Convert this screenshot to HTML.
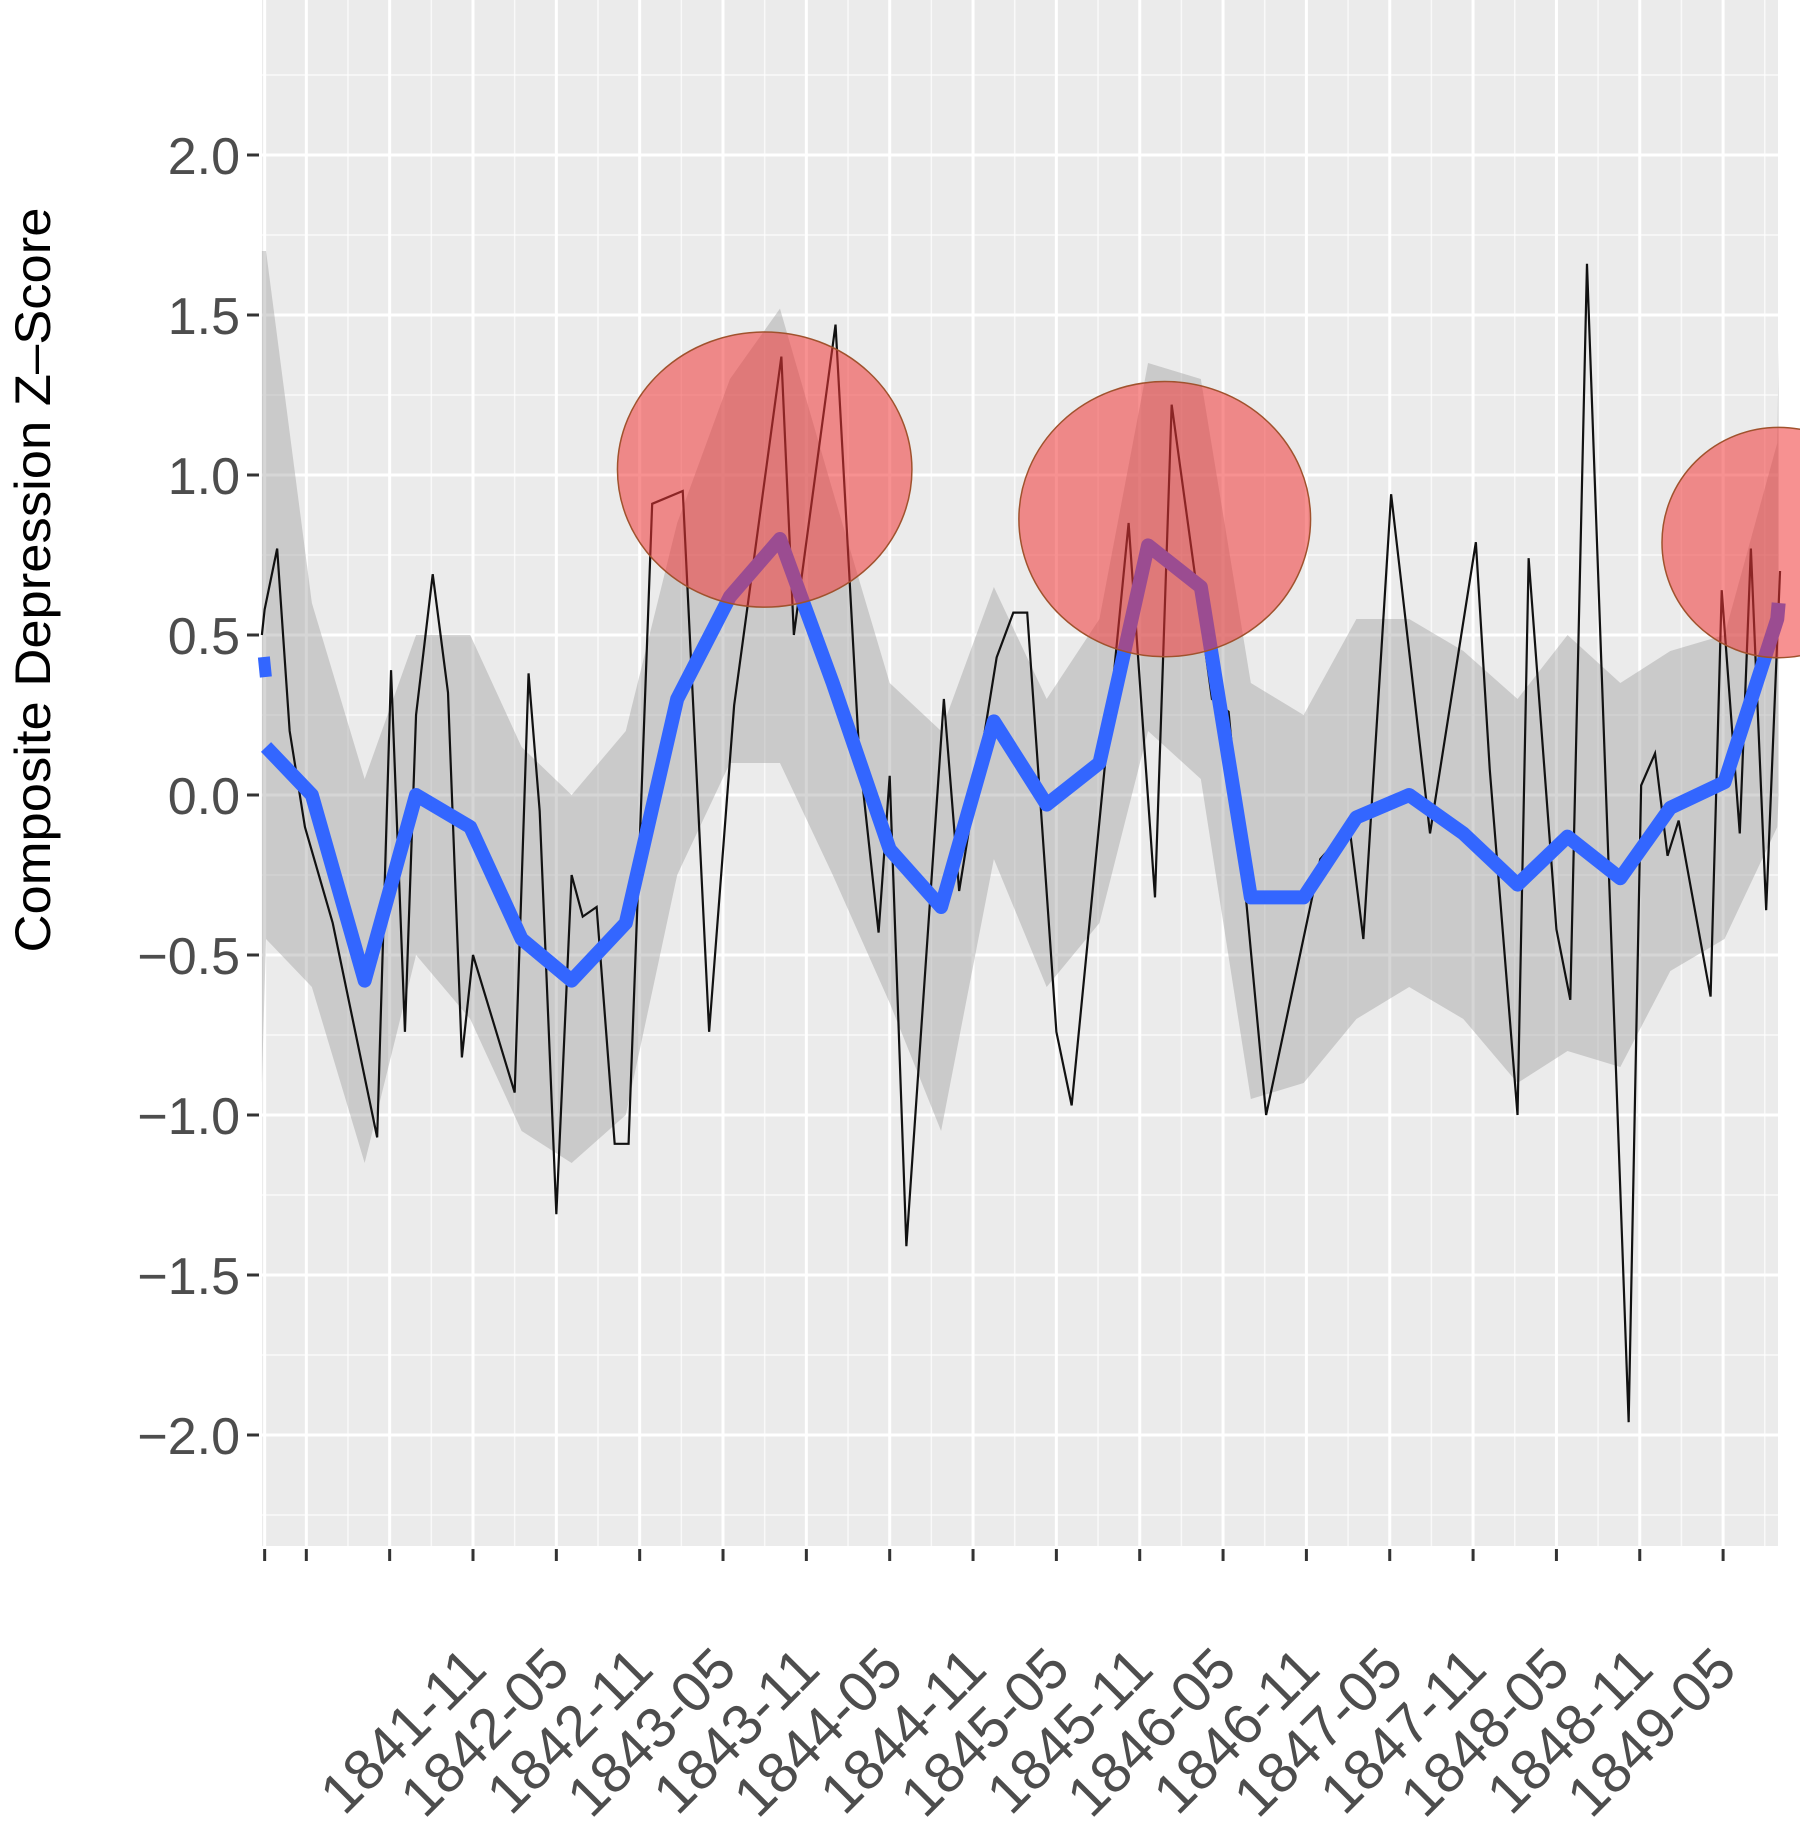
<!DOCTYPE html>
<html><head><meta charset="utf-8"><style>
html,body{margin:0;padding:0;background:#fff;}
svg{display:block;}
</style></head><body>
<svg id="chart" width="1800" height="1845" viewBox="0 0 1800 1845" xmlns="http://www.w3.org/2000/svg">
<rect x="262" y="0" width="1516" height="1546" fill="#ebebeb"/>
<g id="grid"></g>
<g id="ribbon"></g>
<g id="black"></g>
<g id="blue"></g>
<g id="circles"></g>
<g id="axes"></g>
<text transform="translate(50,580) rotate(-90)" text-anchor="middle" font-family="Liberation Sans, sans-serif" font-size="50" fill="#000" textLength="745" lengthAdjust="spacingAndGlyphs">Composite Depression Z–Score</text>
</svg>
<script>
// months are offsets from 1841-11
const monthTimes = [-15.2,-15.0,-14.1,-13.2,-12.1,-10.1,-6.9,-5.9,-4.9,-4.1,-2.9,-1.8,-0.8,0.0,3.0,4.0,4.8,6.0,7.1,7.9,8.9,10.2,11.2,12.9,15.1,17.0,18.8,22.2,23.1,26.1,27.8,29.2,30.0,31.2,33.9,35.0,37.7,38.9,39.9,42.0,43.1,47.2,49.1,50.3,53.2,54.4,57.1,61.0,63.1,64.1,66.1,68.9,72.2,73.2,75.2,76.0,78.0,79.0,80.2,83.2,84.1,85.1,86.0,86.8,89.1,89.9,91.2,92.0,93.1,94.1];
const monthValues = [0.5,0.58,0.77,0.2,-0.1,-0.4,-1.07,0.39,-0.74,0.25,0.69,0.32,-0.82,-0.5,-0.93,0.38,-0.05,-1.31,-0.25,-0.38,-0.35,-1.09,-1.09,0.91,0.95,-0.74,0.28,1.37,0.5,1.47,0.13,-0.43,0.06,-1.41,0.3,-0.3,0.43,0.57,0.57,-0.74,-0.97,0.85,-0.32,1.22,0.3,0.26,-1.0,-0.2,-0.1,-0.45,0.94,-0.12,0.79,0.08,-1.0,0.74,-0.42,-0.64,1.66,-1.96,0.03,0.13,-0.19,-0.08,-0.63,0.64,-0.12,0.77,-0.36,0.7];
const trendTimes = [-15.2,-14.9,-11.6,-7.8,-4.1,-0.2,3.5,7.1,11.0,14.7,18.5,22.1,25.9,30.0,33.7,37.5,41.3,45.1,48.6,52.4,56.0,59.8,63.6,67.4,71.3,75.2,78.8,82.6,86.2,90.1,93.9,94.0];
const trendValues = [0.4,0.15,0.0,-0.58,0.0,-0.1,-0.45,-0.58,-0.4,0.3,0.62,0.8,0.35,-0.17,-0.35,0.23,-0.03,0.1,0.78,0.65,-0.32,-0.32,-0.07,0.0,-0.12,-0.28,-0.13,-0.26,-0.04,0.04,0.55,0.6];
const ribbonUpper = [1.7,1.7,0.6,0.05,0.5,0.5,0.15,0.0,0.2,0.85,1.3,1.52,0.95,0.35,0.2,0.65,0.3,0.55,1.35,1.3,0.35,0.25,0.55,0.55,0.45,0.3,0.5,0.35,0.45,0.5,1.1,1.4];
const ribbonLower = [-0.9,-0.45,-0.6,-1.15,-0.5,-0.7,-1.05,-1.15,-1.0,-0.25,0.1,0.1,-0.25,-0.65,-1.05,-0.2,-0.6,-0.4,0.2,0.05,-0.95,-0.9,-0.7,-0.6,-0.7,-0.9,-0.8,-0.85,-0.55,-0.45,-0.1,0.0];
const yTicks = [-2.0,-1.5,-1.0,-0.5,0.0,0.5,1.0,1.5,2.0];
const yTickLabels = ["−2.0","−1.5","−1.0","−0.5","0.0","0.5","1.0","1.5","2.0"];
const xTickTimes = [-15,-12,-6,0,6,12,18,24,30,36,42,48,54,60,66,72,78,84,90];
const xTickLabels = ["","","","1841-11","1842-05","1842-11","1843-05","1843-11","1844-05","1844-11","1845-05","1845-11","1846-05","1846-11","1847-05","1847-11","1848-05","1848-11","1849-05"];
const circleCenterTimes = [21.0,49.8,94.0];
const circleCenterValues = [1.017,0.862,0.789];
const circleRadiusMonths = [10.6,10.5,8.4];
const circleRadiusValues = [0.43,0.43,0.36];

const NS='http://www.w3.org/2000/svg';
const PL=262, PR=1778, PT=0, PB=1546;
const xs = t => 473 + t*13.89;
const ys = v => 795 - v*320;
function mk(tag, attrs, parent){const e=document.createElementNS(NS,tag);for(const k in attrs)e.setAttribute(k,attrs[k]);parent.appendChild(e);return e;}

const grid=document.getElementById('grid');
for(let v=-2.25; v<=2.5; v+=0.5){const l=mk('line',{x1:PL,x2:PR,y1:ys(v),y2:ys(v),stroke:'#fff','stroke-width':1.5,opacity:0.7},grid);

}
yTicks.forEach(v=>{const l=mk('line',{x1:PL,x2:PR,y1:ys(v),y2:ys(v),stroke:'#fff','stroke-width':3},grid);

});
for(let t=-9; t<=94; t+=6){const l=mk('line',{x1:xs(t),x2:xs(t),y1:PT,y2:PB,stroke:'#fff','stroke-width':1.5,opacity:0.7},grid);

}
xTickTimes.forEach(t=>{const l=mk('line',{x1:xs(t),x2:xs(t),y1:PT,y2:PB,stroke:'#fff','stroke-width':3},grid);

});

const rib=document.getElementById('ribbon');
let pts=[];
trendTimes.forEach((t,i)=>pts.push(xs(t)+','+ys(ribbonUpper[i])));
for(let i=trendTimes.length-1;i>=0;i--)pts.push(xs(trendTimes[i])+','+ys(ribbonLower[i]));
const rp=mk('polygon',{points:pts.join(' '),fill:'#999','fill-opacity':0.4},rib);



const bl=mk('polyline',{points:monthTimes.map((t,i)=>xs(t)+','+ys(monthValues[i])).join(' '),fill:'none',stroke:'#111','stroke-width':2.2,'stroke-linejoin':'miter'},document.getElementById('black'));



const bu=mk('polyline',{points:trendTimes.slice(1).map((t,i)=>xs(t)+','+ys(trendValues[i+1])).join(' '),fill:'none',stroke:'#3366ff','stroke-width':14,'stroke-linejoin':'round'},document.getElementById('blue'));


const bd=mk('line',{x1:xs(trendTimes[0])+2,y1:ys(trendValues[0])-10,x2:xs(trendTimes[0])+4,y2:ys(trendValues[0])+10,stroke:'#3366ff','stroke-width':12},document.getElementById('blue'));



const cg=document.getElementById('circles');
circleCenterTimes.forEach((t,i)=>{
 const cx=xs(t), cy=ys(circleCenterValues[i]);
 const e=mk('ellipse',{cx:cx,cy:cy,rx:circleRadiusMonths[i]*13.89,ry:circleRadiusValues[i]*320,fill:'rgb(240,55,55)','fill-opacity':0.55,stroke:'#a0522d','stroke-width':1.5},cg);
 
 
});

const ax=document.getElementById('axes');
yTicks.forEach((v,i)=>{
 const l=mk('line',{x1:247,x2:259,y1:ys(v),y2:ys(v),stroke:'#333','stroke-width':3},ax);
 
 
 const tx=mk('text',{x:240,y:ys(v)+19,'text-anchor':'end','font-family':'Liberation Sans, sans-serif','font-size':52,fill:'#4d4d4d'},ax);
 tx.textContent=yTickLabels[i];
 
 
});
xTickTimes.forEach((t,i)=>{
 const x=xs(t);
 const l=mk('line',{x1:x,x2:x,y1:1549,y2:1561,stroke:'#333','stroke-width':3},ax);
 
 
 if(xTickLabels[i]){
  const tx=mk('text',{transform:'translate('+(x+16)+',1672) rotate(-45)','text-anchor':'end','font-family':'Liberation Sans, sans-serif','font-size':57,fill:'#4d4d4d'},ax);
  tx.textContent=xTickLabels[i];
  
  
 }
});
</script>
</body></html>
